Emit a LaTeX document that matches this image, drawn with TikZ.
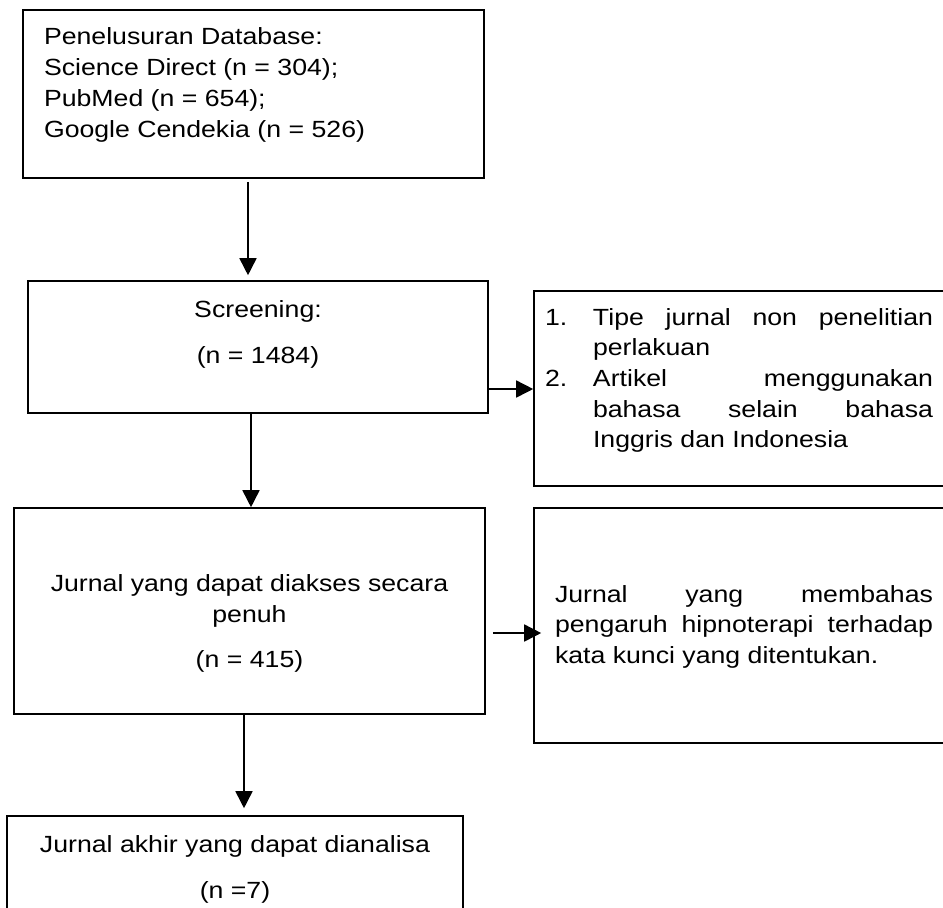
\documentclass[tikz,border=0pt]{standalone}
\usepackage{fontspec}
\setmainfont{Liberation Sans}[FakeStretch=1.14]
\usetikzlibrary{arrows.meta}
\tolerance=10000
\hbadness=10000

\begin{document}
\begin{tikzpicture}[x=0.5pt, y=-0.5pt,
                    font=\fontsize{11.7}{15.35}\selectfont,
                    box/.style={draw, line width=0.8pt, inner sep=0pt},
                    lbl/.style={inner sep=0pt, outer sep=0pt},
                    arr/.style={-{Triangle[length=8.5pt, width=8.5pt]}, line width=0.8pt},
                    ]
\useasboundingbox (0,0) rectangle (943,907);
\clip (0,0) rectangle (943,907);

% boxes
\node[box, minimum width=230.5pt, minimum height=84pt]  (db)    at (253.5,94)  {};
\node[box, minimum width=230pt,   minimum height=66pt]  (scr)   at (258,347)   {};
\node[box, minimum width=223pt,   minimum height=97.5pt] (excl1) at (757,388.5) {};
\node[box, minimum width=235.5pt, minimum height=103pt] (akses) at (249.5,611) {};
\node[box, minimum width=223pt,   minimum height=117.5pt] (excl2) at (757,625.5) {};
\node[box, minimum width=228pt,   minimum height=72pt]  (akhir) at (235,888)   {};

% texts (base = last line)
\node[lbl, anchor=base west, align=left] (dbtxt) at (44,137)
  {Penelusuran Database:\\Science Direct (n = 304);\\PubMed (n = 654);\\Google Cendekia (n = 526)};
\node[lbl, anchor=base, align=center] (scrtxt) at (258,363)
  {Screening:\\[7.65pt](n = 1484)};
\node[lbl, anchor=base west, text width=194pt, align=justify] (excl1txt) at (545,325)
  {\noindent\hangindent=24pt\hangafter=1\makebox[24pt][l]{1.}Tipe jurnal non penelitian\linebreak perlakuan\par
   \noindent\hangindent=24pt\hangafter=1\makebox[24pt][l]{2.}Artikel menggunakan\linebreak bahasa selain bahasa\linebreak Inggris dan Indonesia\par};
\node[lbl, anchor=base, align=center] (aksestxt) at (249.5,667)
  {Jurnal yang dapat diakses secara\\penuh\\[7pt](n = 415)};
\node[lbl, anchor=base west, text width=189pt, align=justify] (excl2txt) at (555,602)
  {Jurnal yang membahas\linebreak pengaruh hipnoterapi terhadap\linebreak kata kunci yang ditentukan.\par};
\node[lbl, anchor=base, align=center] (akhirtxt) at (235,898)
  {Jurnal akhir yang dapat dianalisa\\[7.65pt](n =7)};

% connectors
\coordinate (c1) at (248,0);
\coordinate (c2) at (251,0);
\coordinate (c3) at (244,0);
\coordinate (r1) at (0,389);
\coordinate (r2) at (0,633);
\draw[arr, shorten <=1.5pt, shorten >=2.5pt] (db.south -| c1) -- (scr.north -| c1);
\draw[arr] (scr.south -| c2) -- (akses.north -| c2);
\draw[arr, shorten >=3.5pt] (akses.south -| c3) -- (akhir.north -| c3);
\draw[arr] (scr.east |- r1) -- (excl1.west |- r1);
\draw[arr, shorten <=3.5pt, shorten >=-4pt] (akses.east |- r2) -- (excl2.west |- r2);
\end{tikzpicture}
\end{document}
